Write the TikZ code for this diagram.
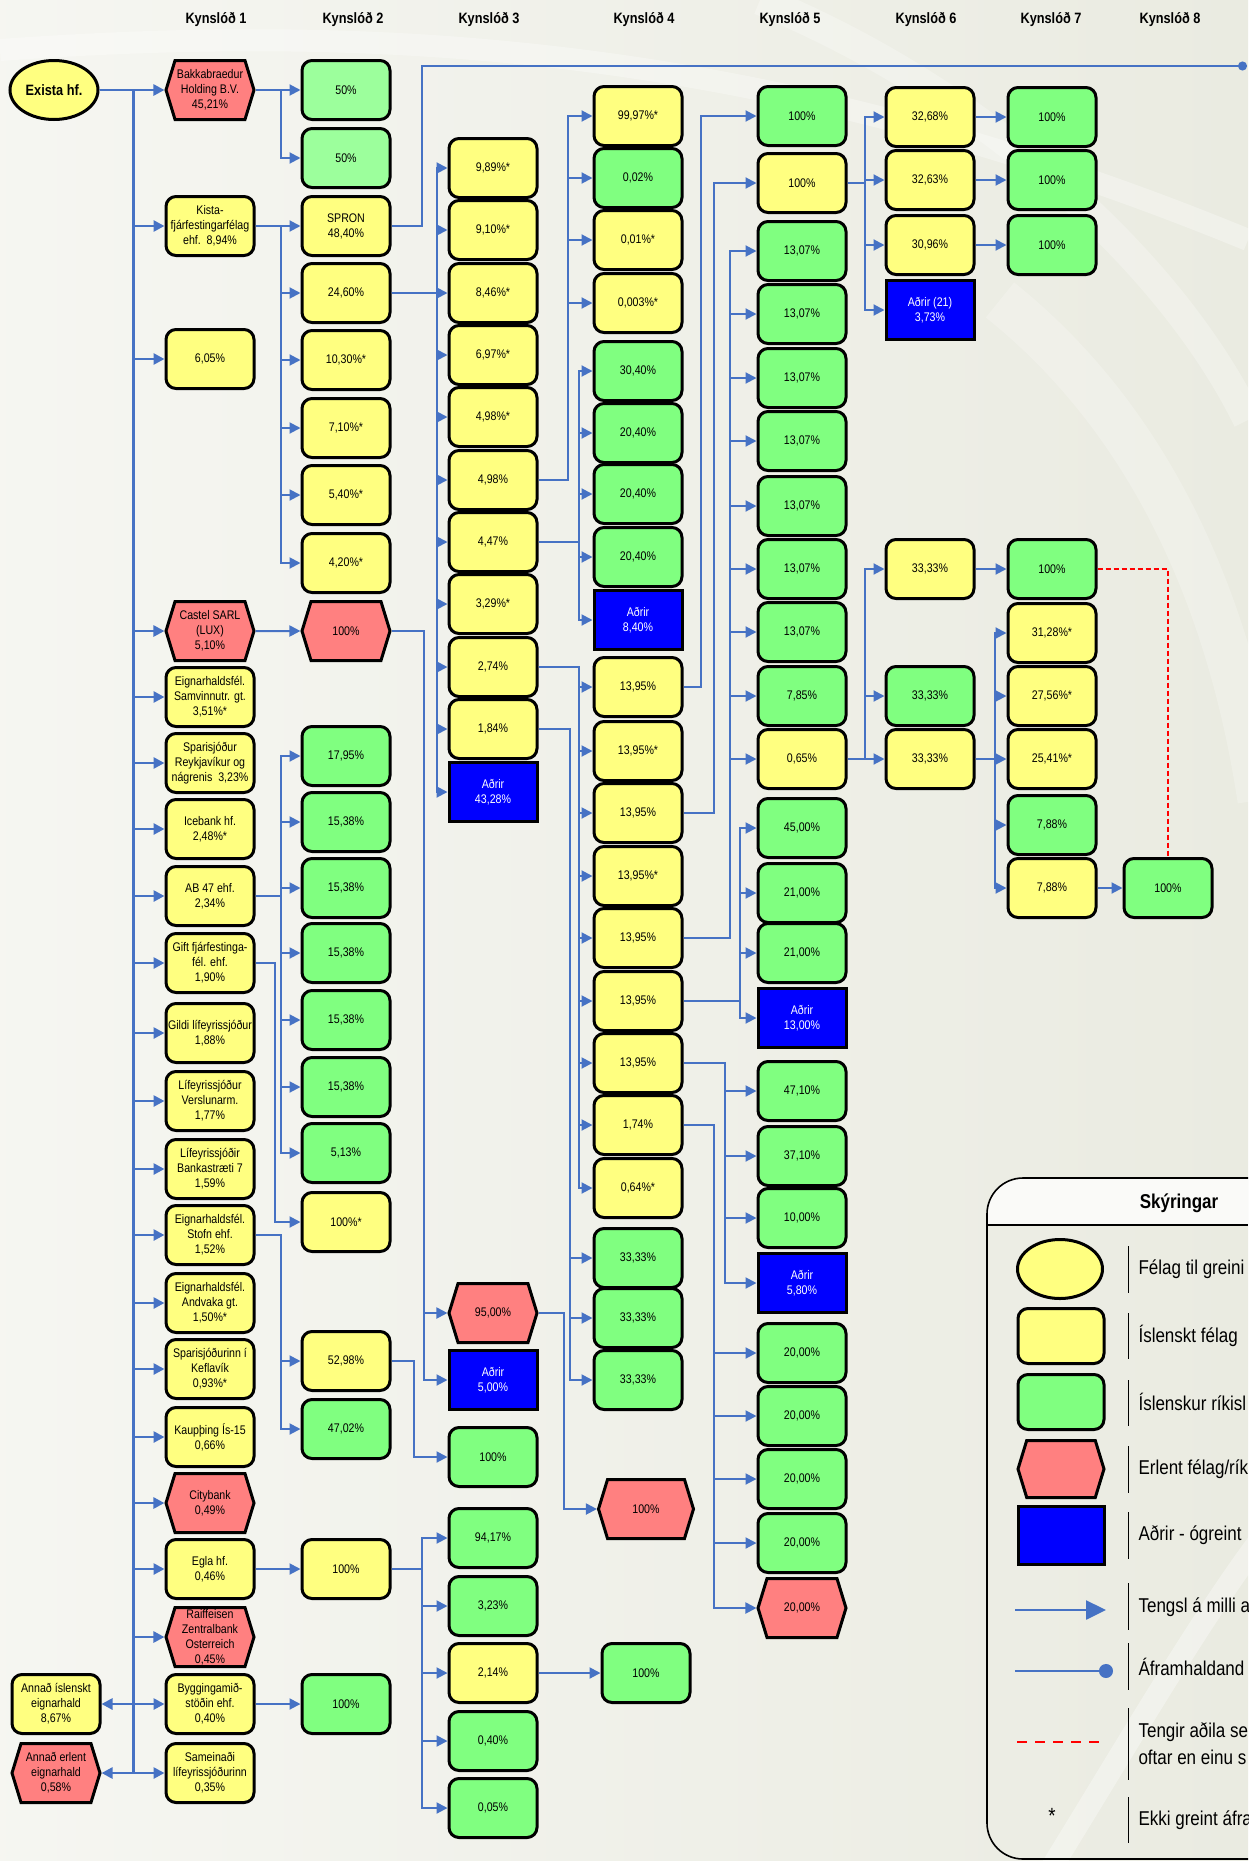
\documentclass[tikz,border=0pt]{standalone}
\usepackage{fontspec}
\setmainfont{Liberation Sans}[FakeStretch=0.85]
\usetikzlibrary{arrows.meta,shapes.geometric,shapes.symbols}

\definecolor{gulur}{RGB}{255,255,128}
\definecolor{graenn}{RGB}{128,255,128}
\definecolor{ljosgraenn}{RGB}{156,255,156}
\definecolor{raudur}{RGB}{255,128,128}
\definecolor{blar}{RGB}{0,0,255}
\definecolor{linublar}{RGB}{70,114,196}
\definecolor{bakgrunnur}{RGB}{234,235,225}

\tikzset{
  felag/.style={draw=black, line width=3pt, minimum width=88pt, minimum height=59pt,
    inner sep=1pt, align=center, font=\fontsize{12.5}{15}\selectfont},
  isl/.style={felag, rounded corners=10pt, fill=gulur},
  rikis/.style={felag, rounded corners=10pt, fill=graenn},
  erl/.style={felag, signal, signal to=east and west, signal pointer angle=146, fill=raudur},
  adrir/.style={felag, fill=blar, text=white},
  grein/.style={felag, ellipse, fill=gulur, font=\fontsize{15}{18}\selectfont\bfseries},
  kyn/.style={font=\fontsize{15}{18}\selectfont\bfseries},
  tengsl/.style={draw=linublar, line width=2pt, -{Triangle[length=11pt,width=11pt]}},
  stofnlina/.style={tengsl, line width=2.7pt},
  framh/.style={draw=linublar, line width=2pt, -{Circle[length=9pt]}},
  tvitengd/.style={draw=red, line width=1.6pt, dash pattern=on 5pt off 3pt},
  skyr/.style={anchor=west, font=\fontsize{20}{27}\selectfont, align=left},
}

\begin{document}
\begin{tikzpicture}[x=1pt,y=-1pt]
\useasboundingbox (0,0) rectangle (1248,1861);
% bakgrunnur
\shade[left color=white!55!bakgrunnur, right color=bakgrunnur] (0,0) rectangle (1248,1861);
\draw[white, opacity=0.3, line width=22pt] (0,50) .. controls (350,25) and (750,35) .. (1248,240);
\draw[white, opacity=0.25, line width=30pt] (760,0) .. controls (980,90) and (1170,260) .. (1248,420);
\draw[white, opacity=0.22, line width=45pt] (1000,300) .. controls (1150,420) and (1230,600) .. (1260,800);
\draw[white, opacity=0.35, line width=22pt] (1050,1870) .. controls (1130,1740) and (1200,1620) .. (1260,1540);

% kynslodir
\node[kyn] (h1) at (216,20) {Kynslóð 1};
\node[kyn] (h2) at (353,20) {Kynslóð 2};
\node[kyn] (h3) at (489,20) {Kynslóð 3};
\node[kyn] (h4) at (644,20) {Kynslóð 4};
\node[kyn] (h5) at (790,20) {Kynslóð 5};
\node[kyn] (h6) at (926,20) {Kynslóð 6};
\node[kyn] (h7) at (1051,20) {Kynslóð 7};
\node[kyn] (h8) at (1170,20) {Kynslóð 8};

% Kynslod 1
\node[grein] (exista) at (54,90) {Exista hf.};
\node[erl] (bakka) at (210,90) {Bakkabraedur\\Holding B.V.\\45,21\%};
\node[isl] (kista) at (210,226) {Kista-\\fjárfestingarfélag\\ehf.\ \ 8,94\%};
\node[isl] (k1c) at (210,359) {6,05\%};
\node[erl] (castel) at (210,631) {Castel SARL\\(LUX)\\5,10\%};
\node[isl] (samvinn) at (210,697) {Eignarhaldsfél.\\Samvinnutr. gt.\\3,51\%*};
\node[isl] (sprvk) at (210,763) {Sparisjóður\\Reykjavíkur og\\nágrenis\ \ 3,23\%};
\node[isl] (icebank) at (210,829) {Icebank hf.\\2,48\%*};
\node[isl] (ab47) at (210,896) {AB 47 ehf.\\2,34\%};
\node[isl] (gift) at (210,963) {Gift fjárfestinga-\\fél. ehf.\\1,90\%};
\node[isl] (gildi) at (210,1033) {Gildi lífeyrissjóður\\1,88\%};
\node[isl] (lifvr) at (210,1101) {Lífeyrissjóður\\Verslunarm.\\1,77\%};
\node[isl] (bankastr) at (210,1169) {Lífeyrissjóðir\\Bankastræti 7\\1,59\%};
\node[isl] (stofn) at (210,1235) {Eignarhaldsfél.\\Stofn ehf.\\1,52\%};
\node[isl] (andvaka) at (210,1303) {Eignarhaldsfél.\\Andvaka gt.\\1,50\%*};
\node[isl] (keflav) at (210,1369) {Sparisjóðurinn í\\Keflavík\\0,93\%*};
\node[isl] (kaupth) at (210,1437) {Kaupþing Ís-15\\0,66\%};
\node[erl] (cityb) at (210,1503) {Citybank\\0,49\%};
\node[isl] (egla) at (210,1569) {Egla hf.\\0,46\%};
\node[erl] (raiff) at (210,1637) {Raiffeisen\\Zentralbank\\Osterreich\\0,45\%};
\node[isl] (bygg) at (210,1704) {Byggingamið-\\stöðin ehf.\\0,40\%};
\node[isl] (samein) at (210,1773) {Sameinaði\\lífeyrissjóðurinn\\0,35\%};
\node[isl] (annadisl) at (56,1704) {Annað íslenskt\\eignarhald\\8,67\%};
\node[erl] (annaderl) at (56,1773) {Annað erlent\\eignarhald\\0,58\%};

% Kynslod 2
\node[rikis, fill=ljosgraenn] (k2a) at (346,90) {50\%};
\node[rikis, fill=ljosgraenn] (k2b) at (346,158) {50\%};
\node[isl] (spron) at (346,226) {SPRON\\48,40\%};
\node[isl] (k2d) at (346,293) {24,60\%};
\node[isl] (k2e) at (346,360) {10,30\%*};
\node[isl] (k2f) at (346,428) {7,10\%*};
\node[isl] (k2g) at (346,495) {5,40\%*};
\node[isl] (k2h) at (346,563) {4,20\%*};
\node[erl] (k2i) at (346,631) {100\%};
\node[rikis] (k2j) at (346,756) {17,95\%};
\node[rikis] (k2k) at (346,822) {15,38\%};
\node[rikis] (k2l) at (346,888) {15,38\%};
\node[rikis] (k2m) at (346,953) {15,38\%};
\node[rikis] (k2n) at (346,1020) {15,38\%};
\node[rikis] (k2o) at (346,1087) {15,38\%};
\node[rikis] (k2p) at (346,1153) {5,13\%};
\node[isl] (k2q) at (346,1222) {100\%*};
\node[isl] (k2r) at (346,1361) {52,98\%};
\node[rikis] (k2s) at (346,1429) {47,02\%};
\node[isl] (k2t) at (346,1569) {100\%};
\node[rikis] (k2u) at (346,1704) {100\%};

% Kynslod 3
\node[isl] (k3a) at (493,168) {9,89\%*};
\node[isl] (k3b) at (493,230) {9,10\%*};
\node[isl] (k3c) at (493,293) {8,46\%*};
\node[isl] (k3d) at (493,355) {6,97\%*};
\node[isl] (k3e) at (493,417) {4,98\%*};
\node[isl] (k3f) at (493,480) {4,98\%};
\node[isl] (k3g) at (493,542) {4,47\%};
\node[isl] (k3h) at (493,604) {3,29\%*};
\node[isl] (k3i) at (493,667) {2,74\%};
\node[isl] (k3j) at (493,729) {1,84\%};
\node[adrir] (k3k) at (493,792) {Aðrir\\43,28\%};
\node[erl] (k3l) at (493,1313) {95,00\%};
\node[adrir] (k3m) at (493,1380) {Aðrir\\5,00\%};
\node[rikis] (k3n) at (493,1457) {100\%};
\node[rikis] (k3o) at (493,1538) {94,17\%};
\node[rikis] (k3p) at (493,1606) {3,23\%};
\node[isl] (k3q) at (493,1673) {2,14\%};
\node[rikis] (k3r) at (493,1741) {0,40\%};
\node[rikis] (k3s) at (493,1808) {0,05\%};

% Kynslod 4
\node[isl] (k4a) at (638,116) {99,97\%*};
\node[rikis] (k4b) at (638,178) {0,02\%};
\node[isl] (k4c) at (638,240) {0,01\%*};
\node[isl] (k4d) at (638,303) {0,003\%*};
\node[rikis] (k4e) at (638,371) {30,40\%};
\node[rikis] (k4f) at (638,433) {20,40\%};
\node[rikis] (k4g) at (638,494) {20,40\%};
\node[rikis] (k4h) at (638,557) {20,40\%};
\node[adrir] (k4i) at (638,620) {Aðrir\\8,40\%};
\node[isl] (k4j) at (638,687) {13,95\%};
\node[isl] (k4k) at (638,751) {13,95\%*};
\node[isl] (k4l) at (638,813) {13,95\%};
\node[isl] (k4m) at (638,876) {13,95\%*};
\node[isl] (k4n) at (638,938) {13,95\%};
\node[isl] (k4o) at (638,1001) {13,95\%};
\node[isl] (k4p) at (638,1063) {13,95\%};
\node[isl] (k4q) at (638,1125) {1,74\%};
\node[isl] (k4r) at (638,1188) {0,64\%*};
\node[rikis] (k4s) at (638,1258) {33,33\%};
\node[rikis] (k4t) at (638,1318) {33,33\%};
\node[rikis] (k4u) at (638,1380) {33,33\%};
\node[erl, minimum width=95pt] (k4v) at (646,1509) {100\%};
\node[rikis] (k4w) at (646,1673) {100\%};

% Kynslod 5
\node[rikis] (k5a) at (802,116) {100\%};
\node[isl] (k5b) at (802,183) {100\%};
\node[rikis] (k5c) at (802,251) {13,07\%};
\node[rikis] (k5d) at (802,314) {13,07\%};
\node[rikis] (k5e) at (802,378) {13,07\%};
\node[rikis] (k5f) at (802,441) {13,07\%};
\node[rikis] (k5g) at (802,506) {13,07\%};
\node[rikis] (k5h) at (802,569) {13,07\%};
\node[rikis] (k5i) at (802,632) {13,07\%};
\node[rikis] (k5j) at (802,696) {7,85\%};
\node[isl] (k5k) at (802,759) {0,65\%};
\node[rikis] (k5l) at (802,828) {45,00\%};
\node[rikis] (k5m) at (802,893) {21,00\%};
\node[rikis] (k5n) at (802,953) {21,00\%};
\node[adrir] (k5o) at (802,1018) {Aðrir\\13,00\%};
\node[rikis] (k5p) at (802,1091) {47,10\%};
\node[rikis] (k5q) at (802,1156) {37,10\%};
\node[rikis] (k5r) at (802,1218) {10,00\%};
\node[adrir] (k5s) at (802,1283) {Aðrir\\5,80\%};
\node[rikis] (k5t) at (802,1353) {20,00\%};
\node[rikis] (k5u) at (802,1416) {20,00\%};
\node[rikis] (k5v) at (802,1479) {20,00\%};
\node[rikis] (k5w) at (802,1543) {20,00\%};
\node[erl] (k5x) at (802,1608) {20,00\%};

% Kynslod 6
\node[isl] (k6a) at (930,117) {32,68\%};
\node[isl] (k6b) at (930,180) {32,63\%};
\node[isl] (k6c) at (930,245) {30,96\%};
\node[adrir] (k6d) at (930,310) {Aðrir (21)\\3,73\%};
\node[isl] (k6e) at (930,569) {33,33\%};
\node[rikis] (k6f) at (930,696) {33,33\%};
\node[isl] (k6g) at (930,759) {33,33\%};

% Kynslod 7 og 8
\node[rikis] (k7a) at (1052,117) {100\%};
\node[rikis] (k7b) at (1052,180) {100\%};
\node[rikis] (k7c) at (1052,245) {100\%};
\node[rikis] (k7d) at (1052,569) {100\%};
\node[isl] (k7e) at (1052,633) {31,28\%*};
\node[isl] (k7f) at (1052,696) {27,56\%*};
\node[isl] (k7g) at (1052,759) {25,41\%*};
\node[rikis] (k7h) at (1052,825) {7,88\%};
\node[isl] (k7i) at (1052,888) {7,88\%};
\node[rikis] (k8a) at (1168,888) {100\%};

% tengsl
\foreach \t in {bakka,kista,k1c,castel,samvinn,sprvk,icebank,ab47,gift,gildi,lifvr,bankastr,stofn,andvaka,keflav,kaupth,cityb,egla,raiff,bygg,samein,annadisl,annaderl}
  \draw[stofnlina] (exista.east) -- ++(34,0) |- (\t);

\foreach \t in {k2a,k2b} \draw[tengsl] (bakka.east) -- ++(25,0) |- (\t);
\foreach \t in {spron,k2d,k2e,k2f,k2g,k2h} \draw[tengsl] (kista.east) -- ++(25,0) |- (\t);
\draw[tengsl] (castel) -- (k2i);
\foreach \t in {k2j,k2k,k2l,k2m,k2n,k2o,k2p} \draw[tengsl] (ab47.east) -- ++(25,0) |- (\t);
\draw[tengsl] (gift.east) -- ++(19,0) |- (k2q);
\foreach \t in {k2r,k2s} \draw[tengsl] (stofn.east) -- ++(25,0) |- (\t);
\draw[tengsl] (egla) -- (k2t);
\draw[tengsl] (bygg) -- (k2u);

\coordinate (framhald) at (1247,66);
\draw[framh] (spron.east) -- ++(30,0) |- (framhald);
\foreach \t in {k3a,k3b,k3c,k3d,k3e,k3f,k3g,k3h,k3i,k3j,k3k} \draw[tengsl] (k2d.east) -- ++(45,0) |- (\t);
\foreach \t in {k3l,k3m} \draw[tengsl] (k2i.east) -- ++(32,0) |- (\t);
\draw[tengsl] (k2r.east) -- ++(22,0) |- (k3n);
\foreach \t in {k3o,k3p,k3q,k3r,k3s} \draw[tengsl] (k2t.east) -- ++(30,0) |- (\t);

\foreach \t in {k4a,k4b,k4c,k4d} \draw[tengsl] (k3f.east) -- ++(29,0) |- (\t);
\foreach \t in {k4e,k4f,k4g,k4h,k4i} \draw[tengsl] (k3g.east) -- ++(40,0) |- (\t);
\foreach \t in {k4j,k4k,k4l,k4m,k4n,k4o,k4p,k4q,k4r} \draw[tengsl] (k3i.east) -- ++(40,0) |- (\t);
\foreach \t in {k4s,k4t,k4u} \draw[tengsl] (k3j.east) -- ++(31,0) |- (\t);
\draw[tengsl] (k3l.east) -- ++(25,0) |- (k4v);
\draw[tengsl] (k3q) -- (k4w);

\draw[tengsl] (k4j.east) -- ++(17,0) |- (k5a);
\draw[tengsl] (k4l.east) -- ++(30,0) |- (k5b);
\foreach \t in {k5c,k5d,k5e,k5f,k5g,k5h,k5i,k5j,k5k} \draw[tengsl] (k4n.east) -- ++(46,0) |- (\t);
\foreach \t in {k5l,k5m,k5n,k5o} \draw[tengsl] (k4o.east) -- ++(56,0) |- (\t);
\foreach \t in {k5p,k5q,k5r,k5s} \draw[tengsl] (k4p.east) -- ++(41,0) |- (\t);
\foreach \t in {k5t,k5u,k5v,k5w,k5x} \draw[tengsl] (k4q.east) -- ++(30,0) |- (\t);

\foreach \t in {k6a,k6b,k6c,k6d} \draw[tengsl] (k5b.east) -- ++(17,0) |- (\t);
\foreach \t in {k6e,k6f,k6g} \draw[tengsl] (k5k.east) -- ++(17,0) |- (\t);
\draw[tengsl] (k6a) -- (k7a);
\draw[tengsl] (k6b) -- (k7b);
\draw[tengsl] (k6c) -- (k7c);
\draw[tengsl] (k6e) -- (k7d);
\foreach \t in {k7e,k7f,k7g,k7h,k7i} \draw[tengsl] (k6g.east) -- ++(19,0) |- (\t);
\draw[tengsl] (k7i) -- (k8a);
\draw[tvitengd] (k7d.east) -| (k8a.north);

% skyringar
\begin{scope}
\clip (0,0) rectangle (1248,1861);
\begin{scope}
\clip[rounded corners=36pt] (987,1178) rectangle (1330,1859);
\fill[white!75!bakgrunnur] (987,1178) rectangle (1330,1225);
\end{scope}
\draw[line width=1.6pt, rounded corners=36pt] (987,1178) rectangle (1330,1859);
\draw[line width=1.6pt] (987,1225) -- (1248,1225);
\end{scope}
\node[font=\fontsize{20}{24}\selectfont\bfseries] (skyrhaus) at (1179,1203) {Skýringar};

\node[grein, minimum width=85pt, minimum height=59pt] (tgrein) at (1060,1269) {};
\node[isl, minimum width=86pt, minimum height=55pt] (tisl) at (1061,1336) {};
\node[rikis, minimum width=86pt, minimum height=55pt] (trikis) at (1061,1402) {};
\node[erl, minimum width=86pt, minimum height=57pt] (terl) at (1061,1469) {};
\node[adrir, minimum width=86pt, minimum height=58pt] (tadrir) at (1061,1535) {};
\coordinate (tta) at (1015,1610);
\coordinate (ttb) at (1106,1610);
\draw[tengsl, line width=2.5pt, -{Triangle[length=20pt,width=19pt]}] (tta) -- (ttb);
\coordinate (tfa) at (1015,1671);
\coordinate (tfb) at (1113,1671);
\draw[framh, line width=2.5pt, -{Circle[length=14pt]}] (tfa) -- (tfb);
\coordinate (tda) at (1017,1742);
\coordinate (tdb) at (1106,1742);
\draw[red, line width=2.5pt, dash pattern=on 10pt off 8pt] (tda) -- (tdb);
\node[font=\fontsize{22}{24}\selectfont] (tstjarna) at (1052,1816) {*};

\foreach \a/\b in {1246/1293,1313/1359,1380/1426,1446/1493,1512/1559,1583/1630,1643/1690,1708/1780,1797/1843}
  \draw[line width=0.8pt] (1128,\a) -- (1128,\b);

\node[skyr] (sgrein) at (1135,1269) {Félag til greini};
\node[skyr] (sisl) at (1135,1336) {Íslenskt félag};
\node[skyr] (srikis) at (1135,1402) {Íslenskur ríkisl};
\node[skyr] (serl) at (1135,1469) {Erlent félag/rík};
\node[skyr] (sadrir) at (1135,1535) {Aðrir - ógreint};
\node[skyr] (stengsl) at (1135,1607) {Tengsl á milli a};
\node[skyr] (sframh) at (1135,1667) {Áframhaldand};
\node[skyr] (stvit) at (1135,1744) {Tengir aðila se\\oftar en einu s};
\node[skyr] (sekki) at (1135,1820) {Ekki greint áfra};
\end{tikzpicture}
\end{document}
